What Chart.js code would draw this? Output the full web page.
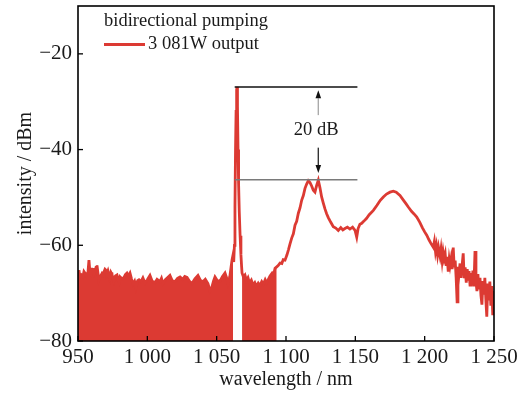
<!DOCTYPE html>
<html><head><meta charset="utf-8">
<script src="https://cdn.jsdelivr.net/npm/chart.js@4.4.1/dist/chart.umd.min.js"></script>
<style>html,body{margin:0;padding:0;background:#fff;}#wrap{width:519px;height:394px;}</style>
</head><body><div id="wrap"><canvas id="c" width="519" height="394"></canvas></div>
<script>
// ---- data (wavelength in nm, intensity in dBm) ----
const noiseFloorWl = [950,950.7,951.4,952.5,953.6,954.3,955,956,957.2,957.9,958.7,959.4,960.1,960.8,961.5,962.3,963,963.7,964.4,965.1,
  966.2,967.3,968,968.7,969.5,970.2,970.9,971.6,972.4,973.1,973.8,974.5,975.2,975.9,977,978.1,978.9,979.6,980.3,981.8,
  983.2,984.2,985.3,986.4,987.5,988.6,989.7,990.8,991.8,993,994,995.4,996.8,998.3,1000,1001.9,1003.5,1005.5,1007,1009.1,
  1010.2,1011.3,1013,1014.5,1016.3,1018,1020,1021.8,1023.6,1025.5,1027,1028.6,1030.4,1032.2,1034.3,1036.5,1038.2,1040.1,1041.8,1043.7,
  1045.2,1046.6,1047.7,1048.8,1050.5,1052.4,1054.2,1056,1057.2,1058.2,1059.5,1060.4,1061.1,1061.8];
const noiseFloorDbm = [-65.5,-65.2,-66.7,-66.2,-66.5,-65.5,-65.8,-66.3,-65.6,-63.1,-66,-66.2,-65,-64.8,-66,-65.4,-64.6,-64.2,-65.8,-67.3,
  -66.5,-65.9,-66.2,-65.6,-65,-65.2,-65.8,-65.3,-66.2,-66.9,-65.7,-66.1,-66.8,-67.5,-66.4,-66.2,-67.3,-67.7,-66.6,-67,
  -66.7,-66.1,-65.8,-66.4,-65.8,-67,-68.1,-67.5,-68.8,-67.4,-67.2,-67.6,-66.8,-67.9,-67.2,-66.3,-67.5,-67.8,-67.1,-67.6,
  -66.9,-68,-67.2,-66.8,-66.3,-67.4,-67.6,-66.9,-66.6,-67.1,-66.5,-66.7,-67.5,-68,-67,-66.3,-67.3,-67.6,-67.1,-68,
  -69.5,-68.7,-67.5,-66.6,-67.4,-67.5,-66.5,-65.8,-66.8,-68,-66.5,-64.5,-63,-62];
const laserPeakWl = [1062.3,1062.8,1063.2,1063.6,1064,1064.4,1064.7,1065,1065.4,1065.8,1066.3,1066.9,1067.5,1068];
const laserPeakDbm = [-63.5,-60,-52,-40,-32,-27.5,-26.9,-31,-40,-47,-53,-58,-62,-64.5];
const shoulderWl = [1068.3,1069.3,1070.4,1071.5,1072.6,1073.7,1075,1076.2,1077.5,1078.7,1080,1081.2,1082.5,1083.7,1085,1086,1087,1088.5,1090,1091,1092.1,1093.3];
const shoulderDbm = [-65.8,-66.6,-66.2,-67.4,-66.8,-67.9,-67.3,-68.3,-67.8,-68.6,-67.9,-68.4,-67.6,-68.1,-67.2,-67.8,-67.3,-66.4,-65.8,-66.2,-64.8,-64.5];
const raman1Wl = [1094.5,1095.7,1097,1098,1099.3,1100.7,1101.7,1102.8,1104.1,1105.3,1106.5,1107.7,1108.9,1110.1,1111.3,1112.5,1113.7,1114.9,1116.1,1117.3,
  1118.5,1119.7,1120.9,1122.1,1123.3,1124.5,1125.7,1126.9,1128.1,1129.3,1130.5,1132.3,1134.1,1135.9,1137.7,1139.5,1141,1142.5,1144.3,1146.1];
const raman1Dbm = [-64.2,-63.7,-63.8,-63,-63.1,-62,-61,-59.8,-58.5,-57.6,-55.8,-55,-53.3,-52.2,-50.6,-49.6,-48.1,-47.2,-46.5,-46.9,
  -47.6,-48.5,-48.9,-47.5,-46.4,-48,-49.9,-51.2,-52.4,-53.4,-54.2,-55.2,-56.1,-56.4,-56.9,-56.3,-56.8,-56.5,-56.2,-56.6];
const raman2Wl = [1148,1149.8,1151,1152,1153.3,1154.6,1156,1158,1160,1163,1165.5,1168,1170.2,1172.5,1175,1177.4,1179.5,1182.2,1184.5,1186.5,
  1188.2,1190.5,1192.5,1194.3,1196.5,1198.5,1200,1201.5,1203,1204.5,1206.2];
const raman2Dbm = [-56.2,-56.9,-58.3,-56.5,-55.6,-55.4,-55,-54.4,-53.6,-52.7,-51.7,-50.6,-49.9,-49.3,-48.9,-48.7,-48.9,-49.6,-50.5,-51.3,
  -52,-52.9,-53.5,-54.1,-55.2,-56.4,-57.2,-57.9,-58.8,-59.6,-60.4];
const tailWl = [1207,1207.8,1208.5,1209.3,1210,1211.1,1211.8,1212.6,1213.3,1214,1214.8,1215.5,1216.2,1217,1217.7,1218.3,1219,1219.8,1220.6,1221.3,
  1222,1222.7,1223.4,1224,1224.7,1225.5,1226.2,1227,1227.8,1228.5,1229.2,1230,1230.7,1231.4,1232,1232.7,1233.4,1234.1,1234.8,1235.5,
  1236.3,1237,1237.7,1238.4,1239.1,1239.9,1240.6,1241.3,1242,1242.7,1243.4,1244.1,1244.8,1245.5,1246.2,1247,1247.7,1248.4,1249.1,1249.7,1250];
const tailDbm = [-59.2,-61.3,-60.1,-62,-60.5,-62.3,-60.8,-63.2,-61.4,-62.8,-61.8,-64.3,-62.4,-65.5,-63,-64.2,-62.9,-65,-60.5,-64.6,
  -63.2,-66.8,-71.8,-64.5,-66.2,-63.8,-66.8,-64.2,-61.7,-66.9,-64.6,-67.8,-65,-67.4,-65.4,-68.3,-65.8,-67.9,-65.3,-68.6,
  -61.2,-67.5,-69.6,-66,-69.2,-66.8,-70.5,-72.4,-67.5,-70.3,-66.8,-71.2,-74.9,-68,-71.5,-67.6,-72.6,-68.5,-74.6,-69.5,-70.5];

const xTicks = [950,1000,1050,1100,1150,1200,1250];
const yTicks = [-80,-60,-40,-20];
const legendTitle = 'bidirectional pumping';
const seriesName = '3 081W output';
// 20 dB marker: peak level, ASE level, span in nm
const refLevels = [-26.9, -46.3];
const refSpan = [1063, 1151.5];
const arrowWl = 1123.3;
const upArrow = [-32.8, -27.6];
const downArrow = [-39.6, -44.9];
const markerText = '20 dB';

// ---- build ----
const pts = (w, d) => w.map((v, i) => ({x: v, y: d[i]}));
const spectrum = [].concat(pts(noiseFloorWl, noiseFloorDbm), pts(laserPeakWl, laserPeakDbm),
  pts(shoulderWl, shoulderDbm), pts(raman1Wl, raman1Dbm), pts(raman2Wl, raman2Dbm), pts(tailWl, tailDbm));
const floorA = pts(noiseFloorWl, noiseFloorDbm);
const floorB = pts(shoulderWl, shoulderDbm);

const RED = 'rgb(220,58,51)';
const SERIF = "'Liberation Serif','Times New Roman',serif";
const TXT = '#1a1a1a';
const fmtNum = v => {
  const s = Math.abs(v).toString();
  let out = s.length > 3 ? s.slice(0, s.length - 3) + ' ' + s.slice(-3) : s;
  return (v < 0 ? '\u2212' : '') + out;
};

const overlay = {
  id: 'overlay',
  afterDatasetsDraw(chart) {
    const {ctx, chartArea: a, scales: {x, y}} = chart;
    ctx.save();
    // inward ticks
    ctx.strokeStyle = '#000'; ctx.lineWidth = 1.3;
    xTicks.forEach(t => {
      const px = x.getPixelForValue(t);
      ctx.beginPath(); ctx.moveTo(px, a.bottom); ctx.lineTo(px, a.bottom - 5); ctx.stroke();
    });
    yTicks.forEach(t => {
      const py = y.getPixelForValue(t);
      ctx.beginPath(); ctx.moveTo(a.left, py); ctx.lineTo(a.left + 5, py); ctx.stroke();
    });
    // frame
    ctx.lineWidth = 1.6;
    ctx.strokeRect(a.left, a.top, a.right - a.left, a.bottom - a.top);
    // reference lines
    const x0 = x.getPixelForValue(refSpan[0]), x1 = x.getPixelForValue(refSpan[1]);
    ctx.lineWidth = 1.5;
    ctx.strokeStyle = '#111';
    ctx.beginPath(); ctx.moveTo(x0, y.getPixelForValue(refLevels[0])); ctx.lineTo(x1, y.getPixelForValue(refLevels[0])); ctx.stroke();
    ctx.strokeStyle = '#7a7a7a';
    ctx.beginPath(); ctx.moveTo(x0, y.getPixelForValue(refLevels[1])); ctx.lineTo(x1, y.getPixelForValue(refLevels[1])); ctx.stroke();
    // arrows
    const ax = x.getPixelForValue(arrowWl);
    const drawArrow = (from, to, shaftColor) => {
      const p0 = y.getPixelForValue(from), p1 = y.getPixelForValue(to);
      const dir = Math.sign(p1 - p0);
      const head = 8;
      ctx.strokeStyle = shaftColor; ctx.lineWidth = 1.4;
      ctx.beginPath(); ctx.moveTo(ax, p0); ctx.lineTo(ax, p1 - dir * head); ctx.stroke();
      ctx.fillStyle = '#111';
      ctx.beginPath(); ctx.moveTo(ax, p1); ctx.lineTo(ax - 2.8, p1 - dir * head); ctx.lineTo(ax + 2.8, p1 - dir * head); ctx.closePath(); ctx.fill();
    };
    drawArrow(upArrow[0], upArrow[1], '#aaaaaa');
    drawArrow(downArrow[0], downArrow[1], '#333333');
    ctx.fillStyle = TXT;
    ctx.font = '18.5px ' + SERIF;
    ctx.textAlign = 'center'; ctx.textBaseline = 'alphabetic';
    ctx.fillText(markerText, x.getPixelForValue(1121.8), y.getPixelForValue(-36.9));
    // legend
    ctx.textAlign = 'left';
    ctx.fillText(legendTitle, 104, 26);
    ctx.fillText(seriesName, 148, 49);
    ctx.strokeStyle = RED; ctx.lineWidth = 3;
    ctx.beginPath(); ctx.moveTo(104, 44.5); ctx.lineTo(145, 44.5); ctx.stroke();
    ctx.restore();
  }
};

new Chart(document.getElementById('c'), {
  type: 'line',
  data: {
    datasets: [
      {label: seriesName, data: spectrum, borderColor: RED, borderWidth: 2.8, pointRadius: 0, tension: 0, fill: false},
      {data: floorA, borderColor: RED, backgroundColor: RED, borderWidth: 1, pointRadius: 0, fill: 'start'},
      {data: floorB, borderColor: RED, backgroundColor: RED, borderWidth: 1, pointRadius: 0, fill: 'start'}
    ]
  },
  options: {
    responsive: false, animation: false, events: [],
    layout: {padding: {top: 6, right: 25, left: 0, bottom: 0}},
    plugins: {legend: {display: false}, tooltip: {enabled: false}},
    scales: {
      x: {
        type: 'linear', min: 950, max: 1250,
        afterBuildTicks: s => { s.ticks = xTicks.map(v => ({value: v})); },
        ticks: {callback: v => fmtNum(v), font: {family: SERIF, size: 21}, color: TXT, padding: 4, maxRotation: 0, autoSkip: false},
        grid: {display: false, drawTicks: false}, border: {display: false},
        title: {display: true, text: 'wavelength / nm', font: {family: SERIF, size: 20}, color: TXT, padding: {top: 0, bottom: 2}},
        afterFit: s => { s.height = 53; s.paddingLeft = 0; s.paddingRight = 0; }
      },
      y: {
        type: 'linear', min: -80, max: -10,
        afterBuildTicks: s => { s.ticks = yTicks.map(v => ({value: v})); },
        ticks: {callback: v => fmtNum(v), font: {family: SERIF, size: 21}, color: TXT, padding: 6},
        grid: {display: false, drawTicks: false}, border: {display: false},
        title: {display: true, text: 'intensity / dBm', font: {family: SERIF, size: 20}, color: TXT, padding: {top: 14, bottom: 0}},
        afterFit: s => { s.width = 78; s.paddingTop = 0; s.paddingBottom = 0; }
      }
    }
  },
  plugins: [overlay]
});
</script>
</body></html>
